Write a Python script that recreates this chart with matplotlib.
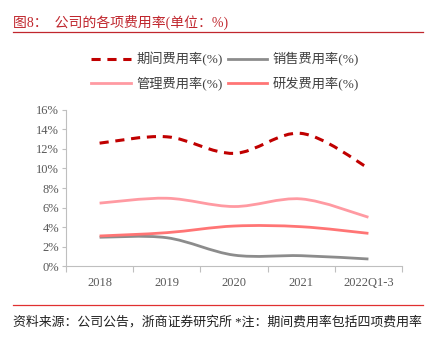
import matplotlib.pyplot as plt
import numpy as np
from matplotlib.path import Path
from matplotlib.patches import PathPatch
from matplotlib.lines import Line2D
from matplotlib.ticker import FuncFormatter

plt.rcParams['font.family'] = ['Liberation Serif', 'Noto Sans CJK SC']

years = ['2018', '2019', '2020', '2021', '2022Q1-3']
period_rate = [12.6, 13.25, 11.55, 13.6, 10.05]
sales_rate = [2.95, 2.9, 1.12, 1.06, 0.72]
admin_rate = [6.45, 6.95, 6.1, 6.88, 5.0]
rnd_rate = [3.08, 3.42, 4.1, 4.03, 3.35]

series = [
    ('期间费用率(%)', period_rate, '#C00000', '--'),
    ('销售费用率(%)', sales_rate, '#8C8C8C', '-'),
    ('管理费用率(%)', admin_rate, '#FF9AA2', '-'),
    ('研发费用率(%)', rnd_rate, '#FF7575', '-'),
]


def smooth_path(xs, ys):
    # Excel style smoothed line: cubic bezier between the points
    pts = np.column_stack([xs, ys])
    verts = [pts[0]]
    codes = [Path.MOVETO]
    n = len(pts)
    for i in range(n - 1):
        p0 = pts[max(i - 1, 0)]
        p1 = pts[i]
        p2 = pts[i + 1]
        p3 = pts[min(i + 2, n - 1)]
        c1 = p1 + (p2 - p0) / 6
        c2 = p2 - (p3 - p1) / 6
        verts += [c1, c2, p2]
        codes += [Path.CURVE4] * 3
    return Path(verts, codes)


fig = plt.figure(figsize=(4.37, 3.4), dpi=100)
ax = fig.add_axes([0.151, 0.2176, 0.769, 0.4589])

x = np.arange(len(years))
for label, vals, color, ls in series:
    lw = 2.2 if ls == '--' else 2.0
    patch = PathPatch(smooth_path(x, np.array(vals) / 100), facecolor='none',
                      edgecolor=color, lw=lw, linestyle=(0, (3, 2.2)) if ls == '--' else '-',
                      capstyle='butt')
    ax.add_patch(patch)

ax.set_xlim(-0.5, len(years) - 0.5)
ax.set_ylim(0, 0.16)
ax.set_yticks(np.arange(0, 0.161, 0.02))
ax.yaxis.set_major_formatter(FuncFormatter(lambda v, p: f'{v * 100:.0f}%'))
ax.set_xticks(x)
ax.set_xticklabels(years)
ax.set_xticks(np.arange(-0.5, len(years)), minor=True)

for s in ['top', 'right']:
    ax.spines[s].set_visible(False)
for s in ['left', 'bottom']:
    ax.spines[s].set_color('#BFBFBF')
    ax.spines[s].set_linewidth(0.8)

ax.tick_params(axis='y', colors='#BFBFBF', labelcolor='#595959', labelsize=9, length=3, width=0.8, pad=2)
ax.tick_params(axis='x', which='major', length=0, labelcolor='#595959', labelsize=9, pad=8)
ax.tick_params(axis='x', which='minor', length=4, color='#BFBFBF', width=0.8)

# legend: row 1 期间/销售, row 2 管理/研发 (matplotlib fills by column)
handles = [Line2D([], [], color=c, lw=2.2 if ls == '--' else 2.0,
                  linestyle=(0, (3, 2.2)) if ls == '--' else '-') for _, _, c, ls in series]
labels = [s[0] for s in series]
order = [0, 2, 1, 3]
fig.legend([handles[i] for i in order], [labels[i] for i in order], ncol=2, loc='center',
           bbox_to_anchor=(0.515, 0.79), frameon=False, fontsize=9.5, handlelength=3.0,
           handletextpad=0.4, columnspacing=0.4, labelspacing=0.75, labelcolor='#404040')

title_color = '#C0262D'
fig.text(0.03, 0.935, '图8：  公司的各项费用率(单位：%)', color=title_color, fontsize=10,
         va='center', ha='left')
fig.add_artist(Line2D([0.03, 0.968], [0.905, 0.905], color='#C0262D', lw=0.9))
fig.add_artist(Line2D([0.03, 0.968], [0.103, 0.103], color='#E03030', lw=0.9))
fig.text(0.03, 0.052, '资料来源：公司公告，浙商证券研究所 *注：期间费用率包括四项费用率', color='#202020',
         fontsize=9.3, va='center', ha='left')

fig.savefig('out.png', dpi=100)
